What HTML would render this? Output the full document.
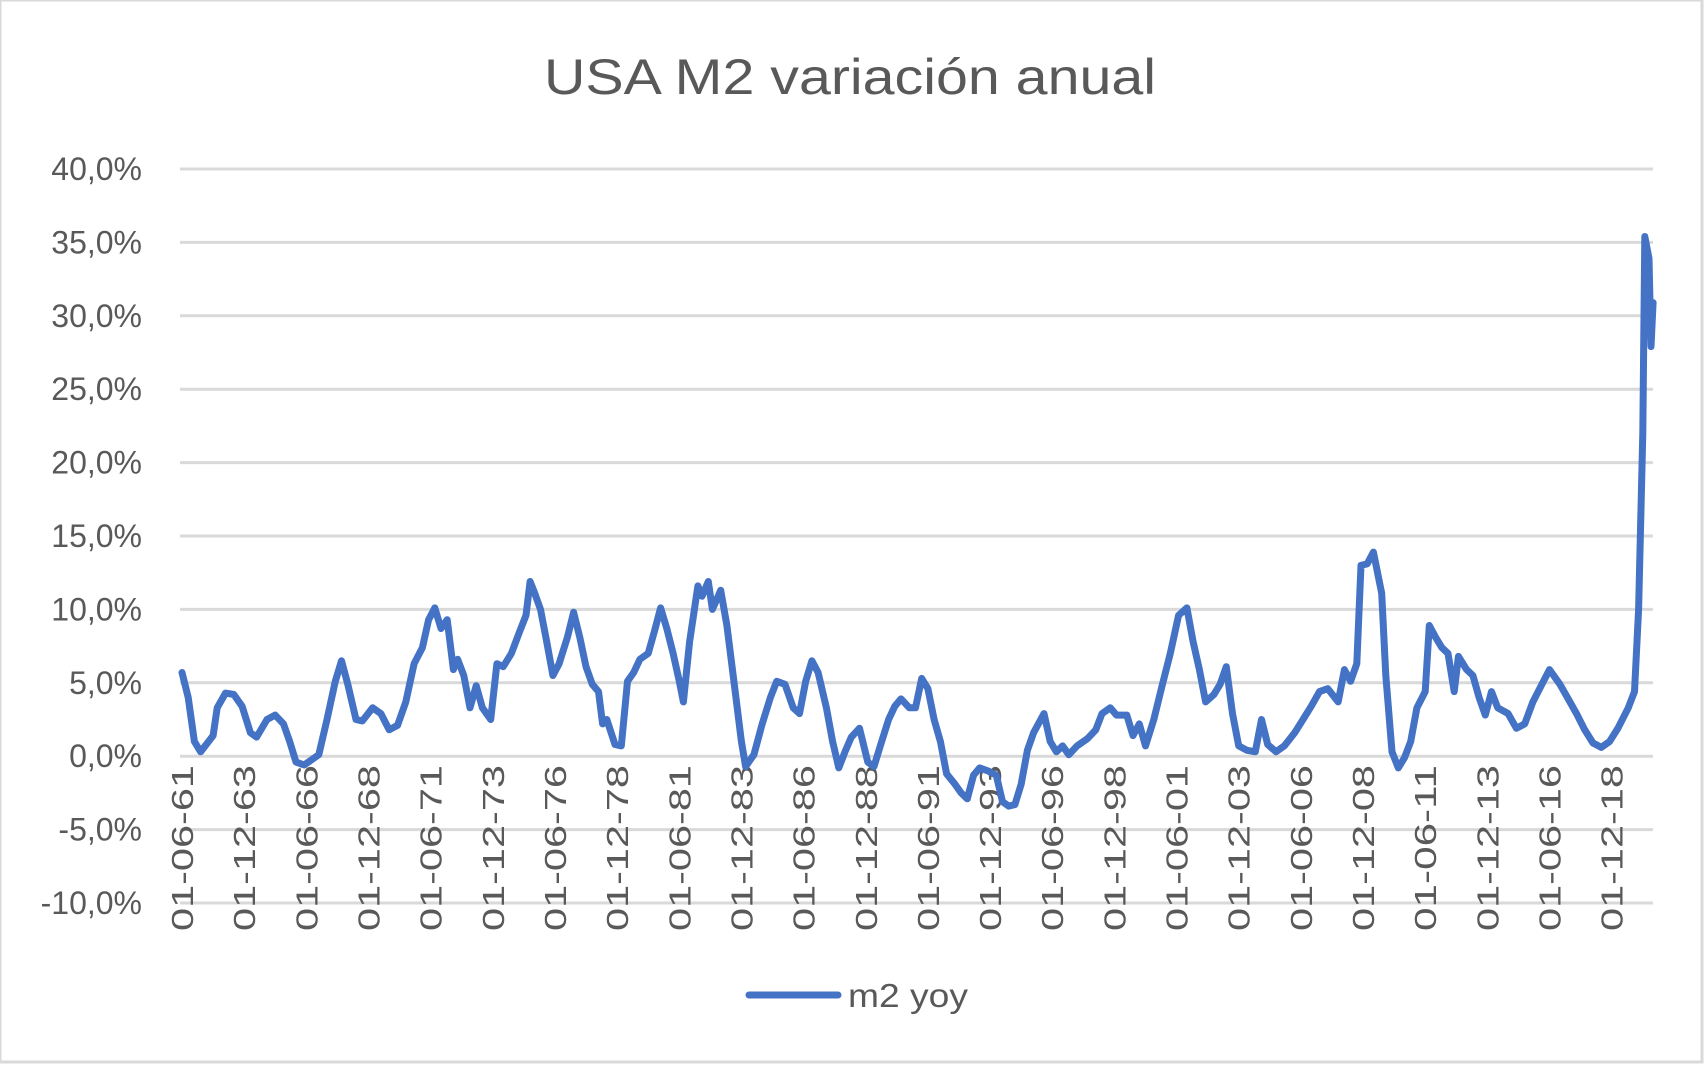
<!DOCTYPE html>
<html><head><meta charset="utf-8"><style>
html,body{margin:0;padding:0;background:#fff;}
svg{display:block;font-family:"Liberation Sans",sans-serif;}
</style></head><body>
<svg id="chart" width="1706" height="1069" viewBox="0 0 1706 1069">
<rect x="0" y="0" width="1702" height="1062" fill="#fff" stroke="#d9d9d9" stroke-width="3"/>
<text x="850" y="94" text-anchor="middle" font-size="50" textLength="612" lengthAdjust="spacingAndGlyphs" fill="#595959">USA M2 variación anual</text>
<g id="grid"></g><g id="ylabels"></g><g id="xlabels"></g>
<path id="series" fill="none" stroke="#4472C4" stroke-width="7" stroke-linejoin="round" stroke-linecap="round"></path>
<g>
<line x1="749" y1="995" x2="838" y2="995" stroke="#4472C4" stroke-width="7" stroke-linecap="round"/>
<text x="848" y="1007" font-size="33" textLength="120" lengthAdjust="spacingAndGlyphs" fill="#595959">m2 yoy</text>
</g>
</svg>
<script>
const yTicks=[40,35,30,25,20,15,10,5,0,-5,-10];
const xTickLabels=["01-06-61","01-12-63","01-06-66","01-12-68","01-06-71","01-12-73","01-06-76","01-12-78","01-06-81","01-12-83","01-06-86","01-12-88","01-06-91","01-12-93","01-06-96","01-12-98","01-06-01","01-12-03","01-06-06","01-12-08","01-06-11","01-12-13","01-06-16","01-12-18"];
const months=[0,3,6,9,15,17,21,25,29,33,36,41,45,49,52,55,59,66,70,74,77,80,84,87,92,96,100,104,108,112,116,119,122,125,128,131,133,136,139,142,145,149,152,155,159,163,166,168,170,173,176,179,182,186,189,192,195,198,201,203,205,209,212,215,218,221,225,228,231,234,237,240,242,245,249,251,254,256,260,263,267,270,272,276,280,284,287,291,295,298,301,304,307,311,314,317,320,323,327,331,334,337,341,344,347,351,354,357,360,363,366,369,373,376,379,382,385,389,393,396,399,402,405,408,411,416,419,422,425,428,432,437,441,444,448,451,456,459,462,465,469,473,477,481,485,488,491,494,498,501,504,507,510,514,518,521,524,528,532,537,541,545,549,553,558,561,564,567,569,572,575,579,581,584,587,590,593,596,600,602,605,608,611,614,616,620,623,626,629,632,635,640,644,648,652,656,660,665,669,673,677,681,685,689,693,698,701,703,705,706,708,709,710];
const values=[5.7,4,1.0,0.3,1.4,3.3,4.3,4.2,3.4,1.6,1.3,2.5,2.8,2.2,1,-0.4,-0.6,0.1,2.5,5.1,6.5,4.9,2.5,2.4,3.3,2.9,1.8,2.1,3.7,6.3,7.4,9.3,10.1,8.7,9.3,5.9,6.6,5.5,3.3,4.8,3.3,2.5,6.3,6.1,7.0,8.5,9.6,11.9,11.2,10,7.8,5.5,6.3,8.1,9.8,8.1,6.1,4.9,4.4,2.2,2.5,0.8,0.7,5.1,5.7,6.6,7.0,8.5,10.1,8.7,7,5.1,3.7,7.8,11.6,10.9,11.9,10,11.3,8.9,4.4,1,-0.7,0.1,2.2,4,5.1,4.9,3.3,2.9,5.1,6.5,5.7,3.3,1,-0.8,0.3,1.3,1.9,-0.4,-0.7,0.7,2.5,3.4,3.9,3.3,3.3,5.3,4.6,2.5,1,-1.2,-1.9,-2.5,-2.9,-1.3,-0.8,-1,-1.3,-3.1,-3.4,-3.3,-1.9,0.4,1.6,2.9,1,0.3,0.7,0.1,0.7,1.2,1.8,2.9,3.3,2.8,2.8,1.4,2.2,0.7,2.5,4.8,7,9.6,10.1,7.8,5.9,3.7,4.2,4.9,6.1,2.9,0.7,0.4,0.3,2.5,0.8,0.3,0.7,1.6,2.5,3.4,4.4,4.6,3.7,5.9,5.1,6.3,13,13.1,13.9,11.1,5.5,0.3,-0.8,-0.1,1,3.3,4.4,8.9,8.1,7.4,7.0,4.4,6.8,5.9,5.5,4,2.8,4.4,3.3,2.9,1.9,2.2,3.7,4.8,5.9,4.9,3.9,2.9,1.8,0.9,0.6,1,1.9,3.3,4.4,10,22,35.4,33.9,27.9,30.9];

const NS="http://www.w3.org/2000/svg";
const yScale=v=>169+(40-v)*14.68;
const xScale=m=>182+m*2.072;
const grid=document.getElementById('grid'),yl=document.getElementById('ylabels'),xl=document.getElementById('xlabels');
yTicks.forEach(t=>{
  const l=document.createElementNS(NS,'line');
  l.setAttribute('x1',180);l.setAttribute('x2',1653);
  l.setAttribute('y1',yScale(t));l.setAttribute('y2',yScale(t));
  l.setAttribute('stroke','#d9d9d9');l.setAttribute('stroke-width','3');
  
  
  grid.appendChild(l);
  const tx=document.createElementNS(NS,'text');
  tx.setAttribute('x',142);tx.setAttribute('y',yScale(t)+11);
  tx.setAttribute('text-anchor','end');tx.setAttribute('font-size','32');tx.setAttribute('fill','#595959');
  tx.textContent=t.toFixed(1).replace('.',',')+'%';
  
  
  yl.appendChild(tx);
});
xTickLabels.forEach((s,i)=>{
  const x=xScale(i*30);
  const tx=document.createElementNS(NS,'text');
  tx.setAttribute('transform','translate('+(x+11)+',931) rotate(-90)');
  tx.setAttribute('font-size','31');tx.setAttribute('fill','#595959');
  tx.setAttribute('textLength','166');tx.setAttribute('lengthAdjust','spacingAndGlyphs');
  tx.textContent=s;
  
  
  xl.appendChild(tx);
});
const p=document.getElementById('series');
p.setAttribute('d',months.map((m,i)=>(i?'L':'M')+xScale(m).toFixed(1)+','+yScale(values[i]).toFixed(1)).join(''));


</script>
</body></html>
